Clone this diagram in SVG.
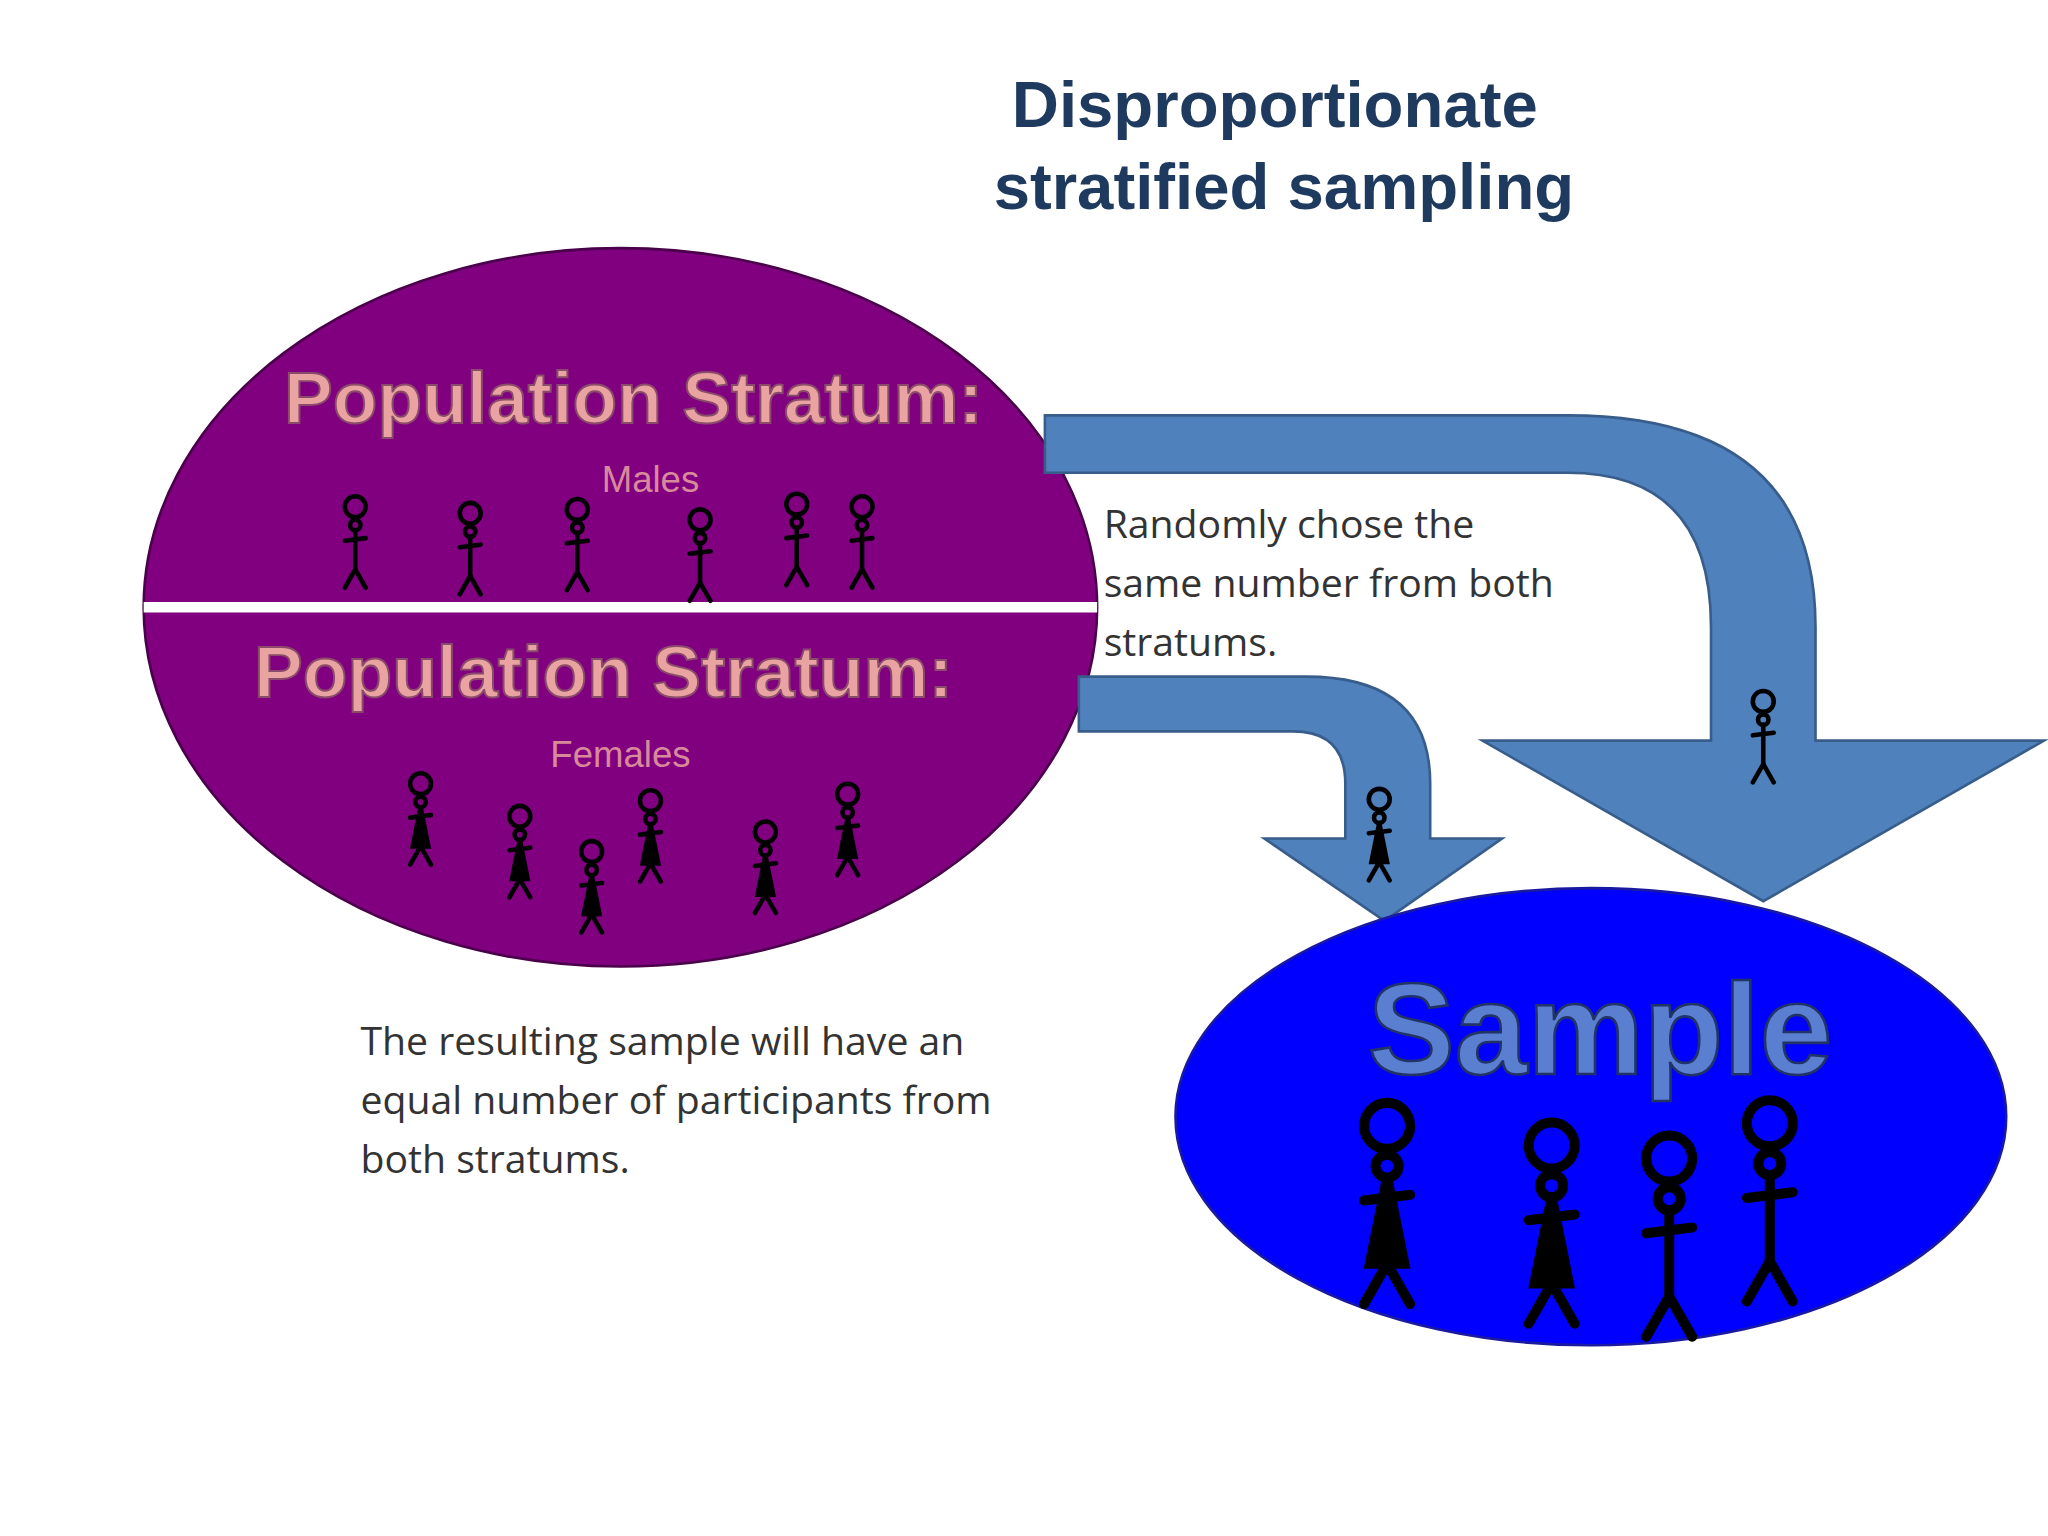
<svg xmlns="http://www.w3.org/2000/svg" xmlns:xlink="http://www.w3.org/1999/xlink" width="2048" height="1536" viewBox="0 0 2048 1536">
<style>
.title{font-family:"Liberation Sans",Arial,sans-serif;font-weight:bold;font-size:50px;fill:#1f3a5f;text-anchor:middle}
.strat{font-family:"Liberation Sans",Arial,sans-serif;font-weight:bold;font-size:56px;fill:#e9a3a0;stroke:#8a4a6a;stroke-width:1.5;text-anchor:middle}
.sub{font-family:"Liberation Sans",Arial,sans-serif;font-size:28px;fill:#d98a9a;text-anchor:middle}
.body{font-family:"Open Sans","Liberation Sans",sans-serif;font-size:30px;fill:#333}
.arrow{fill:#4f81bd;stroke:#385d8a;stroke-width:2}
.fig{stroke:#000;stroke-width:3.5;fill:none;stroke-linecap:round}
</style>
<defs>
<g id="male" class="fig"><circle cx="0" cy="0" r="8"/><circle cx="0" cy="14" r="4"/><line x1="0" y1="18" x2="0" y2="48"/><line x1="-8" y1="26" x2="8" y2="24"/><line x1="0" y1="48" x2="-8" y2="62"/><line x1="0" y1="48" x2="8" y2="62"/></g>
<g id="female" class="fig"><circle cx="0" cy="0" r="8"/><circle cx="0" cy="14" r="4"/><line x1="-8" y1="26" x2="8" y2="24"/><path d="M0,18 L-6,48 L6,48 Z" fill="#000"/><line x1="0" y1="48" x2="-8" y2="62"/><line x1="0" y1="48" x2="8" y2="62"/></g>
</defs>
<rect width="2048" height="1536" fill="#fff"/>
<g transform="scale(1.30612)">
<g id="title"><text class="title" x="976" y="97">Disproportionate</text><text class="title" x="983" y="160">stratified sampling</text></g>
<g id="population">
<ellipse cx="475" cy="465" rx="365" ry="275" fill="#800080" stroke="#4a004a" stroke-width="2"/>
<line x1="110" y1="465" x2="840" y2="465" stroke="#fff" stroke-width="8"/>
<text class="strat" x="485" y="324">Population Stratum:</text>
<text class="sub" x="498" y="377">Males</text>
<text class="strat" x="462" y="534">Population Stratum:</text>
<text class="sub" x="475" y="587">Females</text>
<use xlink:href="#male" x="272" y="388"/><use xlink:href="#male" x="360" y="393"/><use xlink:href="#male" x="442" y="390"/><use xlink:href="#male" x="536" y="398"/><use xlink:href="#male" x="610" y="386"/><use xlink:href="#male" x="660" y="388"/>
<use xlink:href="#female" x="322" y="600"/><use xlink:href="#female" x="398" y="625"/><use xlink:href="#female" x="453" y="652"/><use xlink:href="#female" x="498" y="613"/><use xlink:href="#female" x="586" y="637"/><use xlink:href="#female" x="649" y="608"/>
</g>
<g id="connectors">
<path class="arrow" d="M800,318 L1200,318 Q1390,318 1390,480 L1390,567 L1565,567 L1350,690 L1135,567 L1310,567 L1310,480 Q1310,362 1200,362 L800,362 Z"/>
<path class="arrow" d="M826,518 L1000,518 Q1095,518 1095,600 L1095,642 L1150,642 L1060,705 L968,642 L1030,642 L1030,600 Q1030,560 990,560 L826,560 Z"/>
<use xlink:href="#male" x="1350" y="537"/>
<use xlink:href="#female" x="1056" y="612"/>
</g>
<g id="texts">
<text class="body" x="845" y="412">Randomly chose the</text><text class="body" x="845" y="457">same number from both</text><text class="body" x="845" y="502">stratums.</text>
<text class="body" x="276" y="808">The resulting sample will have an</text><text class="body" x="276" y="853">equal number of participants from</text><text class="body" x="276" y="898">both stratums.</text>
</g>
<g id="sample">
<ellipse cx="1218" cy="855" rx="318" ry="175" fill="#0000ff" stroke="#1a1aa0" stroke-width="2"/>
<text x="1225" y="822" font-family="Liberation Sans,Arial,sans-serif" font-weight="bold" font-size="100" fill="#5a7fd0" stroke="#223366" stroke-width="2" text-anchor="middle">Sample</text>
<use xlink:href="#female" transform="translate(1062,862) scale(2.2)"/>
<use xlink:href="#female" transform="translate(1188,877) scale(2.2)"/>
<use xlink:href="#male" transform="translate(1278,887) scale(2.2)"/>
<use xlink:href="#male" transform="translate(1355,860) scale(2.2)"/>
</g>
</g>
</svg>
